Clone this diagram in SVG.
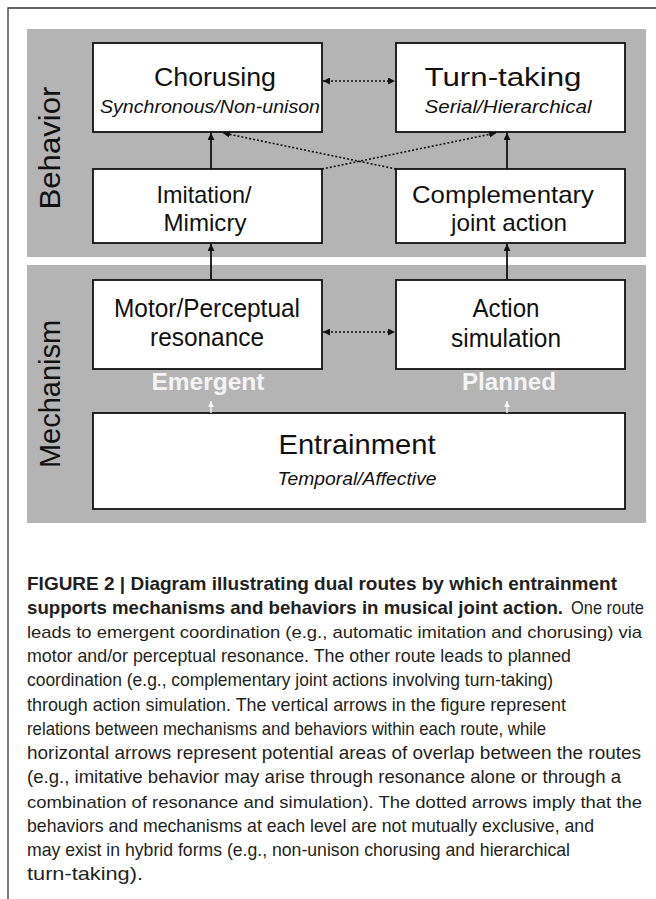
<svg xmlns="http://www.w3.org/2000/svg" width="656" height="899" viewBox="0 0 656 899">
<defs>
<marker id="ah" viewBox="0 0 10 10" refX="10" refY="5" markerWidth="7" markerHeight="7" markerUnits="userSpaceOnUse" orient="auto-start-reverse"><path d="M0,0 L10,5 L0,10 z" fill="#111"/></marker>
<marker id="ahw" viewBox="0 0 10 10" refX="10" refY="5" markerWidth="6" markerHeight="6" markerUnits="userSpaceOnUse" orient="auto-start-reverse"><path d="M0,0 L10,5 L0,10 z" fill="#f4f4f4"/></marker>
</defs>
<style>
.panel{fill:#b4b4b4}
.box{fill:#fff;stroke:#111;stroke-width:1.8}
.t{font-family:"Liberation Sans",Arial,sans-serif;fill:#111;text-anchor:middle}
.n{font-size:26px}
.m{font-size:24px}
.s{font-size:18px;font-style:italic}
.side{font-size:30px}
.lbl{font-size:24px;font-weight:bold;fill:#f4f4f4}
.solid{stroke:#111;stroke-width:1.8;fill:none}
.dot{stroke:#111;stroke-width:1.6;stroke-dasharray:2 2;fill:none}
.white{stroke:#f4f4f4;stroke-width:1.4;fill:none}
.cap{font-family:"Liberation Sans",Arial,sans-serif;font-size:18.5px;fill:#231f20}
.sm{font-size:17px}
.b{font-weight:bold}
</style>
<path d="M8,899 V8 H656" fill="none" stroke="#333" stroke-width="1.3"/>
<g id="panel-behavior">
<rect class="panel" x="27" y="29" width="619" height="228"/>
<text class="t side" transform="translate(60,148) rotate(-90)" textLength="123" lengthAdjust="spacingAndGlyphs">Behavior</text>
</g>
<g id="panel-mechanism">
<rect class="panel" x="27" y="265" width="619" height="258"/>
<text class="t side" transform="translate(60,394) rotate(-90)" textLength="148" lengthAdjust="spacingAndGlyphs">Mechanism</text>
</g>
<g id="chorusing">
<rect class="box" x="93" y="43" width="229" height="89"/>
<text class="t n" x="215" y="86" textLength="122" lengthAdjust="spacingAndGlyphs">Chorusing</text>
<text class="t s" x="210" y="113" textLength="220" lengthAdjust="spacingAndGlyphs">Synchronous/Non-unison</text>
</g>
<g id="turn-taking">
<rect class="box" x="396" y="43" width="229" height="89"/>
<text class="t n" x="503" y="86" textLength="157" lengthAdjust="spacingAndGlyphs">Turn-taking</text>
<text class="t s" x="508" y="113" textLength="167" lengthAdjust="spacingAndGlyphs">Serial/Hierarchical</text>
</g>
<g id="imitation">
<rect class="box" x="93" y="169" width="229" height="74"/>
<text class="t m" x="204" y="203" textLength="95" lengthAdjust="spacingAndGlyphs">Imitation/</text>
<text class="t m" x="205" y="231" textLength="83" lengthAdjust="spacingAndGlyphs">Mimicry</text>
</g>
<g id="complementary">
<rect class="box" x="396" y="169" width="229" height="74"/>
<text class="t m" x="503" y="203" textLength="182" lengthAdjust="spacingAndGlyphs">Complementary</text>
<text class="t m" x="509" y="231" textLength="116" lengthAdjust="spacingAndGlyphs">joint action</text>
</g>
<g id="motor">
<rect class="box" x="93" y="280" width="229" height="89"/>
<text class="t n" x="207" y="317" textLength="186" lengthAdjust="spacingAndGlyphs">Motor/Perceptual</text>
<text class="t n" x="207" y="346" textLength="114" lengthAdjust="spacingAndGlyphs">resonance</text>
</g>
<g id="action-simulation">
<rect class="box" x="396" y="280" width="229" height="89"/>
<text class="t n" x="506" y="317" textLength="67" lengthAdjust="spacingAndGlyphs">Action</text>
<text class="t n" x="506" y="347" textLength="110" lengthAdjust="spacingAndGlyphs">simulation</text>
</g>
<g id="entrainment">
<rect class="box" x="93" y="413" width="532" height="96"/>
<text class="t" x="357" y="454" font-size="28" textLength="157" lengthAdjust="spacingAndGlyphs">Entrainment</text>
<text class="t s" x="357" y="485" textLength="159" lengthAdjust="spacingAndGlyphs">Temporal/Affective</text>
</g>
<g id="route-labels">
<text class="t lbl" x="208" y="390" textLength="113" lengthAdjust="spacingAndGlyphs">Emergent</text>
<text class="t lbl" x="509" y="390" textLength="94" lengthAdjust="spacingAndGlyphs">Planned</text>
</g>
<g id="connectors">
<line class="solid" x1="211" y1="169" x2="211" y2="133" marker-end="url(#ah)"/>
<line class="solid" x1="507" y1="169" x2="507" y2="133" marker-end="url(#ah)"/>
<line class="solid" x1="211" y1="280" x2="211" y2="244" marker-end="url(#ah)"/>
<line class="solid" x1="507" y1="280" x2="507" y2="244" marker-end="url(#ah)"/>
<line class="dot" x1="323" y1="81" x2="395" y2="81" marker-start="url(#ah)" marker-end="url(#ah)"/>
<line class="dot" x1="323" y1="332" x2="395" y2="332" marker-start="url(#ah)" marker-end="url(#ah)"/>
<line class="dot" x1="396" y1="169" x2="223" y2="133" marker-end="url(#ah)"/>
<line class="dot" x1="322" y1="169" x2="496" y2="133" marker-end="url(#ah)"/>
<line class="white" x1="211" y1="413" x2="211" y2="401" marker-end="url(#ahw)"/>
<line class="white" x1="507" y1="413" x2="507" y2="401" marker-end="url(#ahw)"/>
</g>
<g id="caption">
<text class="cap b" x="27" y="590" textLength="590" lengthAdjust="spacingAndGlyphs">FIGURE 2 | Diagram illustrating dual routes by which entrainment</text>
<text class="cap b" x="27" y="614" textLength="536" lengthAdjust="spacingAndGlyphs">supports mechanisms and behaviors in musical joint action.</text>
<text class="cap" x="571" y="614" textLength="73" lengthAdjust="spacingAndGlyphs">One route</text>
<text class="cap sm" x="27" y="638" textLength="615" lengthAdjust="spacingAndGlyphs">leads to emergent coordination (e.g., automatic imitation and chorusing) via</text>
<text class="cap" x="27" y="662" textLength="544" lengthAdjust="spacingAndGlyphs">motor and/or perceptual resonance. The other route leads to planned</text>
<text class="cap" x="27" y="686" textLength="526" lengthAdjust="spacingAndGlyphs">coordination (e.g., complementary joint actions involving turn-taking)</text>
<text class="cap" x="27" y="711" textLength="539" lengthAdjust="spacingAndGlyphs">through action simulation. The vertical arrows in the figure represent</text>
<text class="cap" x="27" y="735" textLength="519" lengthAdjust="spacingAndGlyphs">relations between mechanisms and behaviors within each route, while</text>
<text class="cap" x="27" y="759" textLength="614" lengthAdjust="spacingAndGlyphs">horizontal arrows represent potential areas of overlap between the routes</text>
<text class="cap" x="27" y="783" textLength="594" lengthAdjust="spacingAndGlyphs">(e.g., imitative behavior may arise through resonance alone or through a</text>
<text class="cap sm" x="27" y="808" textLength="615" lengthAdjust="spacingAndGlyphs">combination of resonance and simulation). The dotted arrows imply that the</text>
<text class="cap" x="27" y="832" textLength="567" lengthAdjust="spacingAndGlyphs">behaviors and mechanisms at each level are not mutually exclusive, and</text>
<text class="cap" x="27" y="856" textLength="543" lengthAdjust="spacingAndGlyphs">may exist in hybrid forms (e.g., non-unison chorusing and hierarchical</text>
<text class="cap" x="27" y="880" textLength="116" lengthAdjust="spacingAndGlyphs">turn-taking).</text>
</g>
</svg>
